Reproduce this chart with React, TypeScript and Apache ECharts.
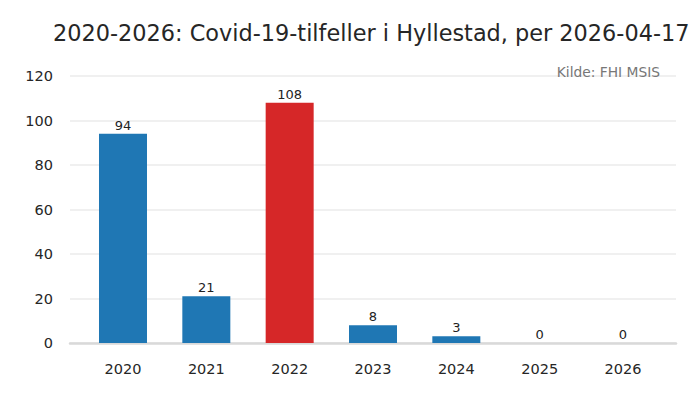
import React, { useEffect, useRef } from "react";
import * as echarts from "echarts";

const years = ["2020", "2021", "2022", "2023", "2024", "2025", "2026"];
const cases = [94, 21, 108, 8, 3, 0, 0];
const highlightYear = "2022";
const yTicks = { min: 0, max: 120, interval: 20 };
const titleText = "2020-2026: Covid-19-tilfeller i Hyllestad, per 2026-04-17";
const sourceText = "Kilde: FHI MSIS";

const FONT = "DejaVu Sans";

export default function App() {
  const ref = useRef<HTMLDivElement>(null);
  useEffect(() => {
    if (!ref.current) return;
    const chart = echarts.init(ref.current, undefined, { renderer: "svg" });
    chart.setOption({
      animation: false,
      backgroundColor: "#ffffff",
      textStyle: { fontFamily: FONT },
      title: [
        {
          text: titleText,
          left: 48,
          top: 17,
          textStyle: { fontFamily: FONT, fontSize: 22.4, fontWeight: "normal", color: "#262626" },
        },
        {
          text: sourceText,
          right: 35,
          top: 60,
          textStyle: { fontFamily: FONT, fontSize: 13.8, fontWeight: "normal", color: "#777777" },
        },
      ],
      grid: [
        { left: 70, right: 24, top: 76, bottom: 57 },
        { left: 81.33, right: 35.33, top: 76, bottom: 57 },
      ],
      xAxis: [
        {
          gridIndex: 0,
          type: "value",
          min: 0,
          max: 1,
          axisLine: { show: true, onZero: false, lineStyle: { color: "#d9d9d9", width: 2.5 } },
          axisTick: { show: false },
          axisLabel: { show: false },
          splitLine: { show: false },
        },
        {
          gridIndex: 1,
          type: "category",
          data: years,
          axisLine: { show: false },
          axisTick: { show: false },
          axisLabel: { fontFamily: FONT, fontSize: 14.5, color: "#262626", margin: 18 },
        },
      ],
      yAxis: [
        {
          gridIndex: 0,
          type: "value",
          ...yTicks,
          axisLine: { show: false },
          axisTick: { show: false },
          axisLabel: { fontFamily: FONT, fontSize: 14.5, color: "#262626", margin: 17 },
          splitLine: { lineStyle: { color: "#ebebeb", width: 1.5 } },
        },
        {
          gridIndex: 1,
          type: "value",
          ...yTicks,
          show: false,
        },
      ],
      series: [
        {
          type: "bar",
          xAxisIndex: 1,
          yAxisIndex: 1,
          barWidth: 48,
          data: cases.map((v, i) => ({
            value: v,
            itemStyle: { color: years[i] === highlightYear ? "#d62728" : "#1f77b4" },
          })),
          label: {
            show: true,
            position: "top",
            distance: 2,
            fontFamily: FONT,
            fontSize: 13,
            color: "#222222",
          },
        },
      ],
    });
    return () => chart.dispose();
  }, []);
  return <div ref={ref} style={{ width: 700, height: 400, margin: -8 }} />;
}
